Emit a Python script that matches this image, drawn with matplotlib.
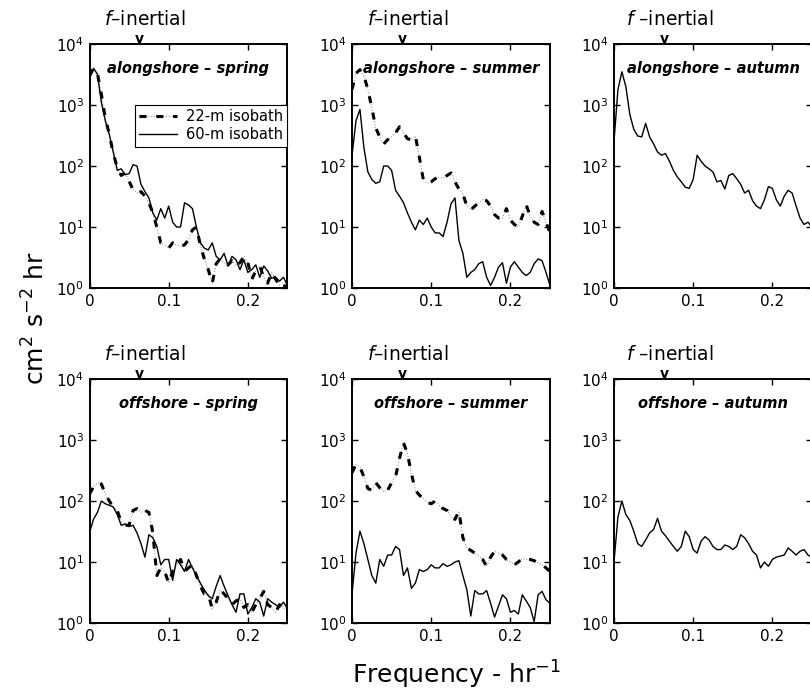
import matplotlib
matplotlib.use('Agg')
import matplotlib.pyplot as plt
from matplotlib.ticker import NullLocator

# frequency grid, cycles per hour
freq = [0.000, 0.005, 0.010, 0.015, 0.020, 0.025, 0.030, 0.035, 0.040, 0.045,
        0.050, 0.055, 0.060, 0.065, 0.070, 0.075, 0.080, 0.085, 0.090, 0.095,
        0.100, 0.105, 0.110, 0.115, 0.120, 0.125, 0.130, 0.135, 0.140, 0.145,
        0.150, 0.155, 0.160, 0.165, 0.170, 0.175, 0.180, 0.185, 0.190, 0.195,
        0.200, 0.205, 0.210, 0.215, 0.220, 0.225, 0.230, 0.235, 0.240, 0.245,
        0.250]

# spectra, cm^2 s^-2 hr
along_spring_22 = [3000, 4000, 3300, 1500, 600, 330, 160, 95, 70, 77,
                   56, 41, 36, 38, 32, 25, 17, 10, 5.5, 5.1,
                   4.5, 5.5, 5.1, 4.8, 5.1, 6.2, 9, 10, 5, 3,
                   2, 1.2, 2.5, 3, 2.6, 2.4, 2.8, 2.3, 2.6, 3.3,
                   2.6, 1.4, 1.9, 2.3, 1.5, 1.2, 1.8, 1.4, 1.1, 0.9,
                   1.6]
along_spring_60 = [2800, 4000, 3200, 1100, 550, 330, 170, 85, 90, 72,
                   75, 105, 100, 50, 38, 30, 17, 13, 20, 14,
                   22, 12, 10, 10, 25, 23, 20, 10, 5.5, 4.5,
                   4.2, 5.5, 3.3, 2.9, 3.7, 2.3, 3.3, 2.9, 2.0, 2.9,
                   1.8, 2.0, 2.4, 1.5, 2.3, 1.9, 1.45, 1.5, 1.3, 1.5,
                   1.1]
along_summer_22 = [1800, 3300, 3800, 3000, 1800, 900, 420, 300, 230, 270,
                   300, 350, 440, 350, 280, 270, 310, 140, 60, 52,
                   55, 62, 65, 63, 70, 77, 55, 42, 35, 22,
                   19, 22, 25, 28, 27, 22, 16, 14, 14, 20,
                   13, 11, 10, 15, 23, 15, 12, 11, 18, 12,
                   8]
along_summer_60 = [150, 550, 850, 200, 80, 60, 52, 55, 100, 100,
                   85, 40, 32, 25, 17, 12, 9, 13, 11, 14,
                   10, 8, 8, 7, 12, 24, 30, 6, 3.7, 1.5,
                   1.8, 2, 2.5, 2.7, 1.5, 1.1, 1.5, 2.2, 2.6, 1.2,
                   2.2, 2.7, 2.2, 1.8, 1.6, 1.8, 2.5, 3.0, 2.8, 1.8,
                   1.1]
along_autumn_60 = [250, 1800, 3500, 2000, 700, 400, 310, 300, 500, 300,
                   230, 170, 150, 160, 120, 85, 66, 55, 45, 43,
                   60, 150, 120, 100, 90, 80, 55, 58, 42, 70,
                   75, 62, 50, 36, 40, 27, 22, 20, 28, 46,
                   43, 28, 22, 32, 40, 36, 22, 14, 11, 12,
                   10]
off_spring_22 = [130, 170, 200, 190, 130, 100, 80, 70, 45, 40,
                 40, 70, 75, 65, 70, 65, 30, 6, 8, 7,
                 4.5, 7, 9, 11, 7, 8, 9, 6, 4, 3,
                 3, 1.7, 2.2, 3.5, 3, 2.5, 2, 2.3, 2.5, 1.8,
                 2, 1.5, 2, 2.5, 3.3, 2, 1.8, 1.5, 2, 1.8,
                 1.6]
off_spring_60 = [30, 50, 65, 100, 90, 85, 80, 60, 40, 42,
                 38, 40, 30, 20, 12, 28, 25, 18, 9, 11,
                 11, 5, 11, 9, 7, 11, 8, 6, 4.5, 3.5,
                 2.8, 2.5, 4, 6, 4, 2.8, 2, 1.5, 3, 3,
                 1.4, 1.8, 2.5, 2.2, 1.3, 2.5, 2.2, 2, 1.8, 2.2,
                 1.7]
off_summer_22 = [290, 400, 360, 250, 160, 150, 200, 165, 140, 150,
                 200, 250, 500, 900, 600, 280, 150, 125, 110, 95,
                 90, 100, 85, 75, 70, 55, 50, 68, 25, 17,
                 15.5, 14, 12.5, 11, 8.5, 12, 15, 14, 13, 11,
                 10, 9, 10, 11.5, 11, 11, 10.5, 9.8, 9, 8,
                 7]
off_summer_60 = [3, 14, 32, 20, 11, 6, 4.5, 11, 8.5, 13,
                 13, 18, 16, 6, 8, 3.7, 4.5, 7.5, 7, 7.5,
                 9, 8, 8, 9.4, 8.5, 9, 10, 10.5, 6, 3.5,
                 1.3, 3.4, 3, 3, 3.4, 2.1, 1.25, 1.9, 2.9, 2.5,
                 1.5, 1.6, 1.4, 2.9, 2.3, 1.8, 1.05, 2.9, 3.3, 2.4,
                 2.1]
off_autumn_60 = [10, 55, 100, 60, 48, 32, 20, 18, 23, 30,
                 34, 52, 32, 27, 22, 18, 15, 18, 32, 26,
                 16, 14, 22, 26, 23, 18, 16, 16, 19, 18,
                 16, 18, 28, 25, 20, 15, 13, 8, 10, 8.5,
                 11, 12, 12.5, 13, 17, 15, 13, 15, 16, 13,
                 12]

titles = ['alongshore \u2013 spring', 'alongshore \u2013 summer', 'alongshore \u2013 autumn',
          'offshore \u2013 spring', 'offshore \u2013 summer', 'offshore \u2013 autumn']
inertial_labels = [r'$f$' + '\u2013inertial', r'$f$' + '\u2013inertial', r'$f$' + ' \u2013inertial',
                   r'$f$' + '\u2013inertial', r'$f$' + '\u2013inertial', r'$f$' + ' \u2013inertial']
series_22 = [along_spring_22, along_summer_22, None, off_spring_22, off_summer_22, None]
series_60 = [along_spring_60, along_summer_60, along_autumn_60,
             off_spring_60, off_summer_60, off_autumn_60]
f_inertial = 0.063

plt.rcParams['font.family'] = 'DejaVu Sans'
plt.rcParams['mathtext.fontset'] = 'dejavusans'

fig = plt.figure(figsize=(8.1, 6.94), dpi=100)
lefts = [0.1105, 0.4346, 0.758]
bottoms = [0.585, 0.1023]
W, H = 0.2444, 0.3516

for i in range(6):
    row, col = divmod(i, 3)
    ax = fig.add_axes([lefts[col], bottoms[row], W, H])
    handles = []
    if series_22[i] is not None:
        thin, = ax.plot(freq, series_22[i], color='0.5', lw=0.7, ls=(0, (1, 2)))
        thick, = ax.plot(freq, series_22[i], color='k', lw=2.2, dashes=(2.3, 3.2))
        handles.append((thin, thick))
    solid, = ax.plot(freq, series_60[i], 'k-', lw=1.0)
    handles.append(solid)

    ax.set_yscale('log')
    ax.set_ylim(1, 1e4)
    ax.set_xlim(0, 0.25)
    ax.set_yticks([1, 10, 100, 1000, 10000])
    ax.yaxis.set_minor_locator(NullLocator())
    ax.set_xticks([0, 0.1, 0.2])
    ax.set_xticklabels(['0', '0.1', '0.2'])
    ax.tick_params(which='both', direction='in', top=True, right=True,
                   length=4, width=1, labelsize=11, pad=4)
    for sp in ax.spines.values():
        sp.set_linewidth(1.4)

    trans = ax.get_xaxis_transform()
    ax.text(f_inertial, 1.004, 'v', transform=trans, ha='center', va='baseline',
            fontsize=10, fontweight='bold')
    ax.text(0.07, 1.078, inertial_labels[i], transform=trans, ha='center',
            va='baseline', fontsize=13.5)
    ax.text(0.125, 0.9, titles[i], transform=trans, ha='center', va='center',
            fontsize=10.5, fontweight='bold', fontstyle='italic')

    if i == 0:
        leg = ax.legend(handles, ['22-m isobath', '60-m isobath'], loc='upper right',
                        bbox_to_anchor=(1.0, 0.75), fontsize=10.5, fancybox=False,
                        edgecolor='k', framealpha=1, borderpad=0.3, handlelength=2.6,
                        handletextpad=0.6, labelspacing=0.2, borderaxespad=0)
        leg.get_frame().set_linewidth(0.8)

fig.text(0.044, 0.542, r'cm$^2$ s$^{-2}$ hr', rotation=90, ha='center', va='center',
         fontsize=18)
fig.text(0.563, 0.027, r'Frequency - hr$^{-1}$', ha='center', va='center', fontsize=18)

fig.savefig('out.png', dpi=100)
